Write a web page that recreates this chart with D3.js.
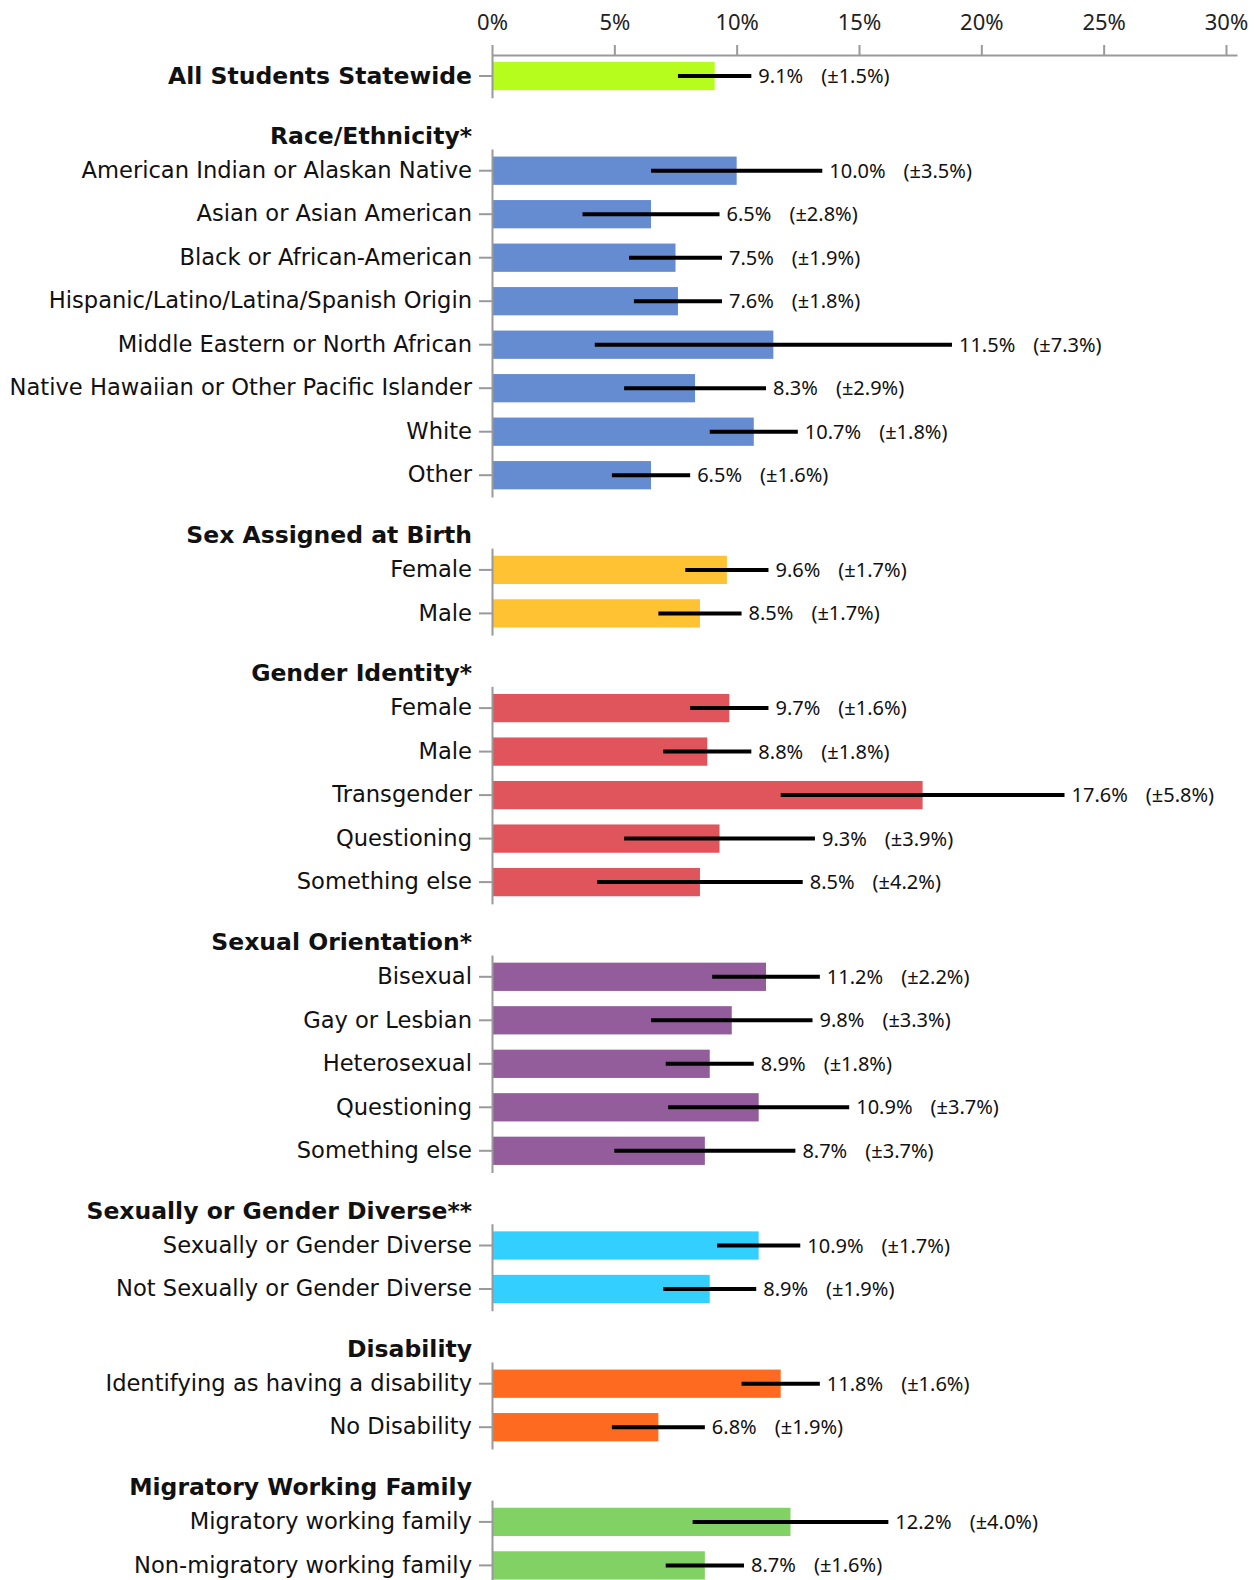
<!DOCTYPE html>
<html>
<head>
<meta charset="utf-8">
<script src="https://cdn.jsdelivr.net/npm/d3@7"></script>
<style>
  body { margin: 0; background: #fff; }
  .cat text { font-family: "DejaVu Sans", sans-serif; font-size: 22.6px; fill: #111; }
  .head { font-family: "DejaVu Sans", sans-serif; font-size: 23.5px; font-weight: bold; fill: #111; }
  .val { font-family: "Noto Sans", sans-serif; font-size: 20px; fill: #111; }
  .xaxis text { font-family: "Noto Sans", sans-serif; font-size: 22px; fill: #222; }
  .domain, .tick line { stroke: #999; stroke-width: 2; }
</style>
</head>
<body>
<script>
// groups (first one has no header, its only row is drawn bold)
const groups = ["All Students Statewide", "Race/Ethnicity*", "Sex Assigned at Birth", "Gender Identity*",
  "Sexual Orientation*", "Sexually or Gender Diverse**", "Disability", "Migratory Working Family"];
const groupColors = ["#b6fc1c", "#658bd0", "#fec232", "#e0555b", "#935d9c", "#33cffe", "#ff6a21", "#82d164"];

const categories = [
  "All Students Statewide",
  "American Indian or Alaskan Native", "Asian or Asian American", "Black or African-American",
  "Hispanic/Latino/Latina/Spanish Origin", "Middle Eastern or North African",
  "Native Hawaiian or Other Pacific Islander", "White", "Other",
  "Female", "Male",
  "Female", "Male", "Transgender", "Questioning", "Something else",
  "Bisexual", "Gay or Lesbian", "Heterosexual", "Questioning", "Something else",
  "Sexually or Gender Diverse", "Not Sexually or Gender Diverse",
  "Identifying as having a disability", "No Disability",
  "Migratory working family", "Non-migratory working family"
];
const categoryGroup = [0, 1, 1, 1, 1, 1, 1, 1, 1, 2, 2, 3, 3, 3, 3, 3, 4, 4, 4, 4, 4, 5, 5, 6, 6, 7, 7];
const values = [9.1, 10.0, 6.5, 7.5, 7.6, 11.5, 8.3, 10.7, 6.5, 9.6, 8.5, 9.7, 8.8, 17.6, 9.3, 8.5,
  11.2, 9.8, 8.9, 10.9, 8.7, 10.9, 8.9, 11.8, 6.8, 12.2, 8.7];
const margins = [1.5, 3.5, 2.8, 1.9, 1.8, 7.3, 2.9, 1.8, 1.6, 1.7, 1.7, 1.6, 1.8, 5.8, 3.9, 4.2,
  2.2, 3.3, 1.8, 3.7, 3.7, 1.7, 1.9, 1.6, 1.9, 4.0, 1.6];
const xTicks = [0, 5, 10, 15, 20, 25, 30];

const W = 1256, H = 1580;
const step = 43.5, headGap = 59.5, headOffset = 35.2;

const svg = d3.select("body").append("svg").attr("width", W).attr("height", H);

const x = d3.scaleLinear().domain([0, 30.45]).range([492, 1237]);

svg.append("g")
  .attr("class", "xaxis")
  .attr("transform", "translate(0,55)")
  .call(d3.axisTop(x).tickValues(xTicks).tickFormat(d => d + "%")
    .tickSize(10).tickSizeOuter(0).tickPadding(15));

const rows = categories.map((c, i) => ({ cat: c, g: categoryGroup[i], v: values[i], m: margins[i] }));

let center = 76;
groups.forEach((gName, gi) => {
  const gRows = rows.filter(r => r.g === gi);
  if (gi > 0) {
    const hy = center + headGap;
    svg.append("text").attr("class", "head")
      .attr("x", 472).attr("y", hy).attr("dy", "0.35em")
      .attr("text-anchor", "end").text(gName);
    center = hy + headOffset;
  }
  const top = center - step / 2;
  const y = d3.scaleBand()
    .domain(gRows.map(r => r.cat))
    .range([top, top + gRows.length * step])
    .paddingInner(0.35).paddingOuter(0.175);

  const g = svg.append("g");

  g.selectAll("rect.bar").data(gRows).enter().append("rect")
    .attr("class", "bar")
    .attr("x", x(0))
    .attr("y", d => y(d.cat))
    .attr("width", d => x(d.v) - x(0))
    .attr("height", y.bandwidth())
    .attr("fill", groupColors[gi]);

  const ax = g.append("g").attr("class", "cat")
    .attr("transform", `translate(${x(0)},0)`)
    .call(d3.axisLeft(y).tickSize(13).tickPadding(7).tickSizeOuter(0));
  if (gi === 0) ax.selectAll("text").style("font-weight", "bold").style("font-size", "23.5px");

  g.selectAll("line.err").data(gRows).enter().append("line")
    .attr("class", "err")
    .attr("x1", d => x(d.v - d.m)).attr("x2", d => x(d.v + d.m))
    .attr("y1", d => y(d.cat) + y.bandwidth() / 2)
    .attr("y2", d => y(d.cat) + y.bandwidth() / 2)
    .attr("stroke", "#000").attr("stroke-width", 4);

  const t = g.selectAll("text.val").data(gRows).enter().append("text")
    .attr("class", "val")
    .attr("x", d => x(d.v + d.m) + 7)
    .attr("y", d => y(d.cat) + y.bandwidth() / 2)
    .attr("dy", "0.35em")
    .text(d => d.v.toFixed(1) + "%");
  t.append("tspan").attr("dx", 18).text(d => "(±" + d.m.toFixed(1) + "%)");

  center = top + gRows.length * step - step / 2;
});
</script>
</body>
</html>
